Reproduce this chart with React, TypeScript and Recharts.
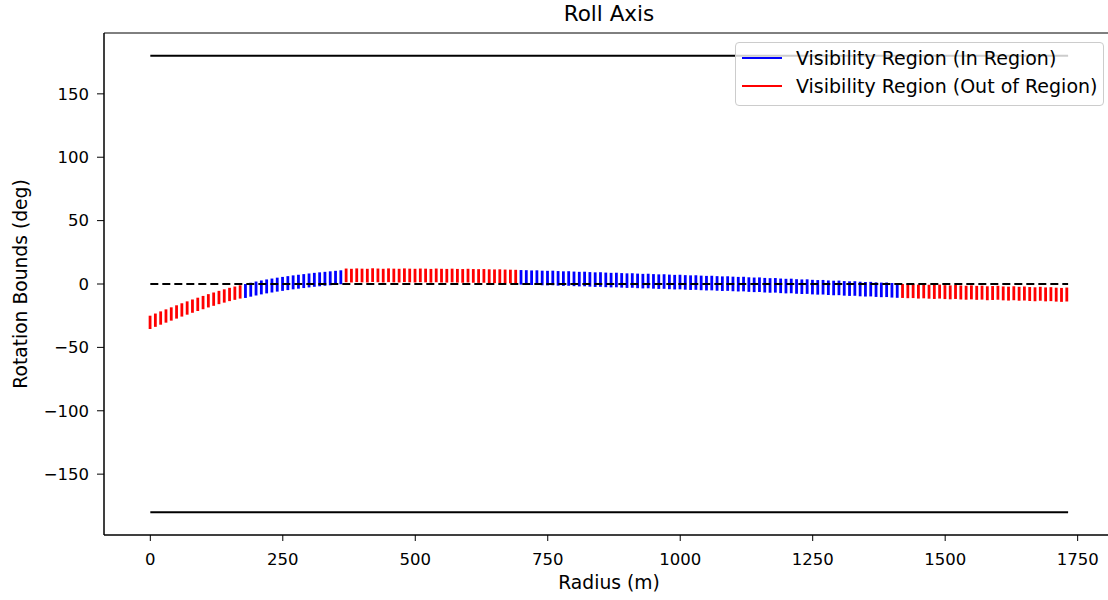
import { ComposedChart, Bar, Cell, XAxis, YAxis, ReferenceLine, ReferenceArea } from "recharts";

// sample radii (m)
const radius = [
  0, 10, 20, 30, 40, 50, 60, 70, 80, 90,
  100, 110, 120, 130, 140, 150, 160, 170, 180, 190,
  200, 210, 220, 230, 240, 250, 260, 270, 280, 290,
  300, 310, 320, 330, 340, 350, 360, 370, 380, 390,
  400, 410, 420, 430, 440, 450, 460, 470, 480, 490,
  500, 510, 520, 530, 540, 550, 560, 570, 580, 590,
  600, 610, 620, 630, 640, 650, 660, 670, 680, 690,
  700, 710, 720, 730, 740, 750, 760, 770, 780, 790,
  800, 810, 820, 830, 840, 850, 860, 870, 880, 890,
  900, 910, 920, 930, 940, 950, 960, 970, 980, 990,
  1000, 1010, 1020, 1030, 1040, 1050, 1060, 1070, 1080, 1090,
  1100, 1110, 1120, 1130, 1140, 1150, 1160, 1170, 1180, 1190,
  1200, 1210, 1220, 1230, 1240, 1250, 1260, 1270, 1280, 1290,
  1300, 1310, 1320, 1330, 1340, 1350, 1360, 1370, 1380, 1390,
  1400, 1410, 1420, 1430, 1440, 1450, 1460, 1470, 1480, 1490,
  1500, 1510, 1520, 1530, 1540, 1550, 1560, 1570, 1580, 1590,
  1600, 1610, 1620, 1630, 1640, 1650, 1660, 1670, 1680, 1690,
  1700, 1710, 1720, 1730,
];

// upper edge of the visibility window (deg)
const upper = [
  -25, -23.3, -21.6, -20, -18.4, -16.8, -15.2, -13.7, -12.2, -10.8,
  -9.4, -8, -6.7, -5.4, -4.2, -3, -2, -1, 0, 1,
  2, 2.8, 3.6, 4.3, 5, 5.6, 6.2, 6.8, 7.3, 7.8,
  8.3, 8.8, 9.2, 9.6, 10, 10.4, 10.8, 12.2, 12, 12.3,
  12.1, 12, 12.4, 12.2, 12, 12.3, 12.1, 12, 12.3, 12.1,
  12, 12.2, 12.1, 11.9, 12.2, 12, 11.9, 12.1, 11.9, 11.8,
  12, 11.8, 11.7, 11.8, 11.6, 11.5, 11.6, 11.4, 11.3, 11.2,
  11, 10.9, 10.7, 10.8, 10.5, 10.4, 10.5, 10.2, 10, 10.1,
  9.8, 9.6, 9.7, 9.4, 9.2, 9.3, 9, 8.8, 8.9, 8.6,
  8.4, 8.5, 8.2, 8, 8.1, 7.8, 7.6, 7.7, 7.4, 7.2,
  7.3, 7, 6.8, 6.9, 6.6, 6.4, 6.5, 6.2, 6, 6.1,
  5.8, 5.6, 5.7, 5.3, 5.1, 5.2, 4.8, 4.6, 4.7, 4.3,
  4.1, 4.2, 3.8, 3.6, 3.7, 3.3, 3.1, 3.2, 2.8, 2.6,
  2.7, 2.3, 2.1, 2.2, 1.8, 1.6, 1.7, 1.3, 1.1, 1.2,
  0.8, 0.6, 0, -0.2, -0.1, -0.5, -0.3, -0.6, -0.8, -0.5,
  -0.9, -1.1, -0.8, -1.2, -1.4, -1.1, -1.5, -1.3, -1.8, -1.6,
  -1.4, -1.9, -2.1, -1.8, -2.2, -2, -2.4, -2.6, -2.2, -2.7,
  -2.5, -2.9, -3.1, -2.8,
];

// lower edge of the visibility window (deg)
const lower = [
  -35.5, -33.8, -32.1, -30.5, -28.9, -27.3, -25.7, -24.2, -22.7, -21.3,
  -19.9, -18.5, -17.2, -15.9, -14.7, -13.5, -12.5, -11.5, -11, -10,
  -9, -8.2, -7.4, -6.7, -6, -5.4, -4.8, -4.2, -3.7, -3.2,
  -2.7, -2.2, -1.8, -1.4, -1, -0.6, -0.2, 1.4, 1.2, 1.5,
  1.3, 1.2, 1.6, 1.4, 1.2, 1.5, 1.3, 1.2, 1.5, 1.3,
  1.2, 1.4, 1.3, 1.1, 1.4, 1.2, 1.1, 1.3, 1.1, 1,
  1.2, 1, 0.9, 1, 0.8, 0.7, 0.8, 0.6, 0.5, 0.4,
  -0.5, -0.6, -0.8, -0.7, -1, -1.1, -1, -1.3, -1.5, -1.4,
  -1.7, -1.9, -1.8, -2.1, -2.3, -2.2, -2.5, -2.7, -2.6, -2.9,
  -3.1, -3, -3.3, -3.5, -3.4, -3.7, -3.9, -3.8, -4.1, -4.3,
  -4.2, -4.5, -4.7, -4.6, -4.9, -5.1, -5, -5.3, -5.5, -5.4,
  -5.7, -5.9, -5.8, -6.2, -6.4, -6.3, -6.7, -6.9, -6.8, -7.2,
  -7.4, -7.3, -7.7, -7.9, -7.8, -8.2, -8.4, -8.3, -8.7, -8.9,
  -8.8, -9.2, -9.4, -9.3, -9.7, -9.9, -9.8, -10.2, -10.4, -10.3,
  -10.7, -10.9, -11, -11.2, -11.1, -11.5, -11.3, -11.6, -11.8, -11.5,
  -11.9, -12.1, -11.8, -12.2, -12.4, -12.1, -12.5, -12.3, -12.8, -12.6,
  -12.4, -12.9, -13.1, -12.8, -13.2, -13, -13.4, -13.6, -13.2, -13.7,
  -13.5, -13.9, -14.1, -13.8,
];

// radius spans that fall inside the region
const inRegionSpans = [
  [180, 360],
  [700, 1410],
];

const boundRadius = [0, 1732];
const rollLimits = [-180, 180];
const nominalRoll = 0;

const xTicks = [0, 250, 500, 750, 1000, 1250, 1500, 1750];
const yTicks = [-150, -100, -50, 0, 50, 100, 150];
const xDomain: [number, number] = [-87.4, 1818.6];
const yDomain: [number, number] = [-198, 198];

const IN_COLOR = "#0000ff";
const OUT_COLOR = "#ff0000";
const FONT = "'DejaVu Sans', sans-serif";

const data = radius.map((r, i) => ({
  r,
  range: [lower[i], upper[i]],
  inRegion: inRegionSpans.some(([a, b]) => r >= a && r <= b),
}));

const minus = (v: number) => String(v).replace("-", "\u2212");

const tickStyle = { fill: "#000", fontSize: 16.5, fontFamily: FONT };

export default function App() {
  return (
    <div
      style={{
        position: "fixed",
        left: 0,
        top: 0,
        width: 1108,
        height: 600,
        overflow: "hidden",
        background: "#fff",
        fontFamily: FONT,
      }}
    >
      <div
        style={{
          position: "absolute",
          left: 104,
          width: 1010,
          top: 0,
          height: 28,
          lineHeight: "28px",
          textAlign: "center",
          fontSize: 21.5,
          color: "#000",
        }}
      >
        Roll Axis
      </div>

      <ComposedChart
        width={1120}
        height={600}
        data={data}
        margin={{ top: 33, right: 6, bottom: 25, left: 0 }}
      >
        <XAxis
          dataKey="r"
          type="number"
          domain={xDomain}
          ticks={xTicks}
          allowDataOverflow
          height={40}
          tickSize={6}
          tickMargin={12}
          tick={tickStyle}
          stroke="#000"
          tickLine={{ stroke: "#000" }}
          axisLine={{ stroke: "#000" }}
        />
        <YAxis
          type="number"
          domain={yDomain}
          ticks={yTicks}
          allowDataOverflow
          width={104}
          tickSize={7}
          tickMargin={8}
          tick={tickStyle}
          tickFormatter={minus}
          stroke="#000"
          tickLine={{ stroke: "#000" }}
          axisLine={{ stroke: "#000" }}
        />
        <ReferenceArea
          x1={xDomain[0]}
          x2={xDomain[1]}
          y1={yDomain[0]}
          y2={yDomain[1]}
          fill="none"
          fillOpacity={0}
          stroke="#000"
          strokeWidth={1}
        />
        <Bar dataKey="range" barSize={2.8} isAnimationActive={false}>
          {data.map((d) => (
            <Cell key={d.r} fill={d.inRegion ? IN_COLOR : OUT_COLOR} />
          ))}
        </Bar>
        {rollLimits.map((y) => (
          <ReferenceLine
            key={y}
            segment={[
              { x: boundRadius[0], y },
              { x: boundRadius[1], y },
            ]}
            stroke="#000"
            strokeWidth={2}
          />
        ))}
        <ReferenceLine
          segment={[
            { x: boundRadius[0], y: nominalRoll },
            { x: boundRadius[1], y: nominalRoll },
          ]}
          stroke="#000"
          strokeWidth={2}
          strokeDasharray="8 4"
        />
      </ComposedChart>

      <div
        style={{
          position: "absolute",
          left: 104,
          width: 1010,
          top: 570,
          height: 26,
          lineHeight: "26px",
          textAlign: "center",
          fontSize: 18.7,
          color: "#000",
        }}
      >
        Radius (m)
      </div>
      <div
        style={{
          position: "absolute",
          left: 20,
          top: 284,
          transform: "translate(-50%, -50%) rotate(-90deg)",
          whiteSpace: "nowrap",
          fontSize: 18.7,
          color: "#000",
        }}
      >
        Rotation Bounds (deg)
      </div>

      {/* legend, drawn semi-transparent over the plot */}
      <div
        style={{
          position: "absolute",
          left: 735,
          top: 42,
          width: 369,
          height: 64,
          boxSizing: "border-box",
          border: "1px solid #cccccc",
          borderRadius: 4,
          background: "rgba(255,255,255,0.8)",
        }}
      >
        {[
          { label: "Visibility Region (In Region)", color: IN_COLOR },
          { label: "Visibility Region (Out of Region)", color: OUT_COLOR },
        ].map((item, i) => (
          <div
            key={item.label}
            style={{
              position: "absolute",
              left: 6,
              top: 1 + i * 28,
              height: 28,
              display: "flex",
              alignItems: "center",
              whiteSpace: "nowrap",
            }}
          >
            <div style={{ width: 40, height: 2, background: item.color }} />
            <span style={{ marginLeft: 14, fontSize: 19, color: "#000" }}>
              {item.label}
            </span>
          </div>
        ))}
      </div>
    </div>
  );
}
